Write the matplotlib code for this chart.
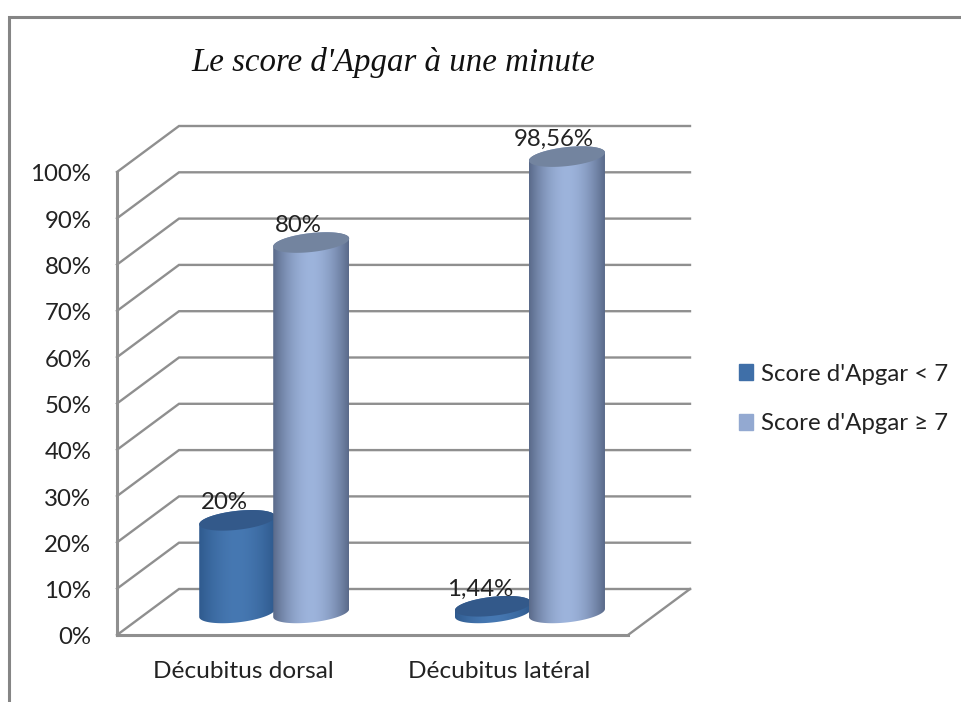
import matplotlib
matplotlib.use("Agg")
import matplotlib.pyplot as plt
import numpy as np
from matplotlib.colors import to_rgb
from matplotlib.lines import Line2D
from matplotlib.patches import Patch, Polygon
from matplotlib.transforms import ScaledTranslation

categories = ["Décubitus dorsal", "Décubitus latéral"]
series_names = ["Score d'Apgar < 7", "Score d'Apgar ≥ 7"]
score_low = [20, 1.44]
score_high = [80, 98.56]
low_labels = ["20%", "1,44%"]
high_labels = ["80%", "98,56%"]
y_ticks = list(range(0, 101, 10))
y_tick_labels = [f"{v}%" for v in y_ticks]
title = "Le score d'Apgar à une minute"

W, H = 962, 702
LEFT, RIGHT, BOTTOM, TOP = 117, 628, 635, 172  # plot box, pixels from top-left
PX_X = (RIGHT - LEFT) / 2
PX_Y = (BOTTOM - TOP) / 100
GRID = "#8f8f8f"
TEXT = "#222222"
SANS = "Lato"
FONT = 17.3

# 3d look: how far the back wall sits from the front plane, in data units
DEPTH_X = 62 / PX_X
DEPTH_Y = 46 / PX_Y
BAR_R = 38 / PX_X
BAR_GAP = 37 / PX_X
CAP_MINOR = 9.5 / PX_Y
CAP_TILT = 4 / PX_Y


def ellipse(cx, cy, t):
    # tilted cap of a cylinder, in data units
    return (cx + BAR_R * np.cos(t),
            cy + CAP_MINOR * np.sin(t) + CAP_TILT * np.cos(t))


def cylinder(ax, x, value, edge, mid, cap, zorder):
    cx = x + DEPTH_X / 2
    base = DEPTH_Y / 2 - 0.2
    top = base + value
    bx, by = ellipse(cx, base, np.linspace(np.pi, 2 * np.pi, 60))
    tx, ty = ellipse(cx, top, np.linspace(0, np.pi, 60))
    clip = Polygon(np.column_stack([np.r_[bx, tx], np.r_[by, ty]]), closed=True,
                   transform=ax.transData, facecolor="none", edgecolor="none")
    ax.add_patch(clip)

    edge, mid = np.array(to_rgb(edge)), np.array(to_rgb(mid))
    s = np.abs(np.linspace(-1, 1, 128))[:, None] ** 1.8
    shade = (mid * (1 - s) + edge * s)[None, :, :]
    im = ax.imshow(shade, extent=(cx - BAR_R, cx + BAR_R, base - 8, top + 8),
                   aspect="auto", interpolation="bilinear", zorder=zorder)
    # image is taller than the axes for the top bar, so clip to the figure
    im.set_clip_box(ax.figure.bbox)
    im.set_clip_path(clip)
    capx, capy = ellipse(cx, top, np.linspace(0, 2 * np.pi, 120))
    ax.fill(capx, capy, color=cap, lw=0, zorder=zorder + 0.1, clip_on=False)
    return cx, top


def bar_label(ax, text, cx, top):
    ax.annotate(text, (cx, top), xytext=(-9.5, 12.5), textcoords="offset points",
                ha="center", va="center", fontsize=FONT, color=TEXT, family=SANS,
                zorder=6, annotation_clip=False)


fig = plt.figure(figsize=(W / 100, H / 100), dpi=100)
ax = fig.add_axes([LEFT / W, 1 - BOTTOM / H, (RIGHT - LEFT) / W, (BOTTOM - TOP) / H])
ax.patch.set_alpha(0)

# outer chart frame
fig.add_artist(Line2D([9 / W, 9 / W, 1], [0, 1 - 17 / H, 1 - 17 / H],
                      color="#858585", lw=2.2, solid_joinstyle="miter"))

# walls and floor
for v in y_ticks:
    ax.plot([0, DEPTH_X, 2 + DEPTH_X], [v, v + DEPTH_Y, v + DEPTH_Y],
            color=GRID, lw=1.7, clip_on=False, zorder=1, solid_joinstyle="miter")
ax.plot([2 + DEPTH_X, 2], [DEPTH_Y, 0], color=GRID, lw=1.7, clip_on=False, zorder=1)

x_pos = np.array([0.494, 1.495])
for i in range(len(categories)):
    cx, top = cylinder(ax, x_pos[i] - BAR_GAP, score_low[i], "#2f5a8e", "#4678b2", "#33598a", 3)
    bar_label(ax, low_labels[i], cx, top)
    cx, top = cylinder(ax, x_pos[i] + BAR_GAP, score_high[i], "#5a6a8a", "#9db4dc", "#73849f", 4)
    bar_label(ax, high_labels[i], cx, top)

ax.set_xlim(0, 2)
ax.set_ylim(0, 100)
ax.set_xticks(x_pos, categories, fontsize=17.6, color=TEXT, family=SANS)
ax.set_yticks(y_ticks, y_tick_labels, fontsize=FONT, color=TEXT, family=SANS)
ax.tick_params(axis="both", length=0)
ax.tick_params(axis="x", pad=19)
ax.tick_params(axis="y", pad=18.5)
nudge = ScaledTranslation(0, -0.7 / 72, fig.dpi_scale_trans)
for label in ax.get_yticklabels():
    label.set_transform(label.get_transform() + nudge)
for side in ("top", "right"):
    ax.spines[side].set_visible(False)
for side in ("left", "bottom"):
    ax.spines[side].set_color(GRID)
    ax.spines[side].set_linewidth(2.2)

fig.text(393 / W, 1 - 62 / H, title, ha="center", va="center", fontsize=23.7,
         style="italic", family="Liberation Serif", color="#111111")

ax.legend(handles=[Patch(color="#3f6fa8", label=series_names[0]),
                   Patch(color="#93a9d1", label=series_names[1])],
          loc="center left", bbox_to_anchor=(739 / W, 1 - 399 / H),
          bbox_transform=fig.transFigure, frameon=False,
          handlelength=0.6, handleheight=0.6, handletextpad=0.3,
          labelspacing=1.2, borderpad=0, borderaxespad=0, labelcolor=TEXT,
          prop={"family": SANS, "size": FONT})

fig.savefig("out.png", dpi=100)
